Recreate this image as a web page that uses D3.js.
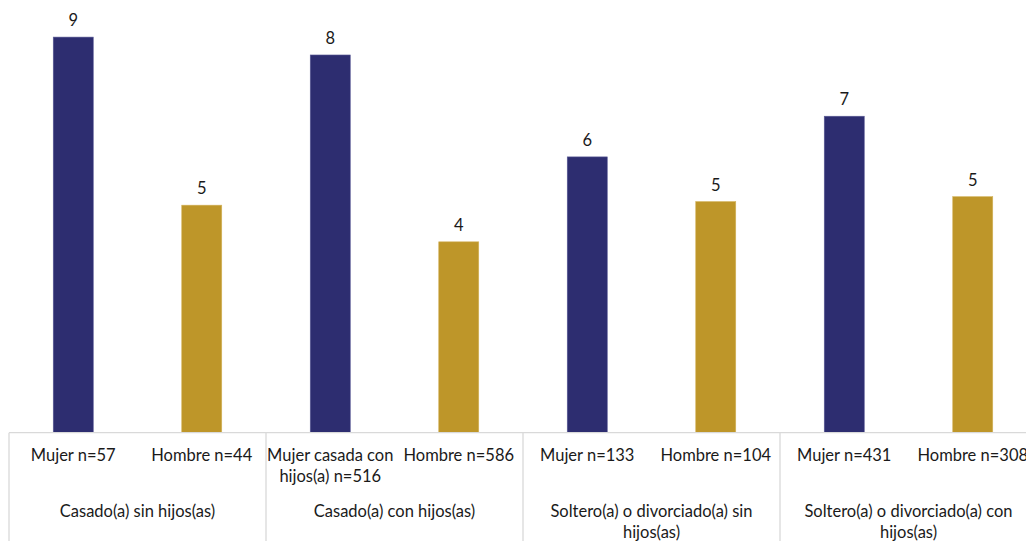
<!DOCTYPE html>
<html><head><meta charset="utf-8">
<script src="https://cdn.jsdelivr.net/npm/d3@7"></script>
<style>html,body{margin:0;padding:0;background:#fff;overflow:hidden}</style>
</head><body>
<svg id="chart" width="1026" height="541"></svg>
<script>
const groups = ["Casado(a) sin hijos(as)", "Casado(a) con hijos(as)", "Soltero(a) o divorciado(a) sin hijos(as)", "Soltero(a) o divorciado(a) con hijos(as)"];
const series = ["Mujer", "Hombre"];
const mujerLabels = ["Mujer n=57", "Mujer casada con hijos(a) n=516", "Mujer n=133", "Mujer n=431"];
const hombreLabels = ["Hombre n=44", "Hombre n=586", "Hombre n=104", "Hombre n=308"];
const mujerValues = [8.85, 8.45, 6.17, 7.08];
const hombreValues = [5.09, 4.27, 5.17, 5.28];
const yTicks = [0, 10];

const colors = {Mujer: "#2D2D70", Hombre: "#BE9629"};
const FONT = "Lato, 'Open Sans', sans-serif";
const FS = 16.5;

const svg = d3.select("#chart");
const left = 9, groupW = 257, baseY = 432.7, pxPerUnit = 44.7;

const x0 = d3.scaleBand().domain(groups).range([left, left + groupW * groups.length]).padding(0);
const x1 = d3.scaleBand().domain(series).range([0, x0.bandwidth()]).paddingInner(0.6887).paddingOuter(0.6887 / 2);
const y = d3.scaleLinear().domain([yTicks[0], yTicks[1]]).range([baseY, baseY - pxPerUnit * yTicks[1]]);

const data = [];
groups.forEach((g, i) => {
  data.push({group: g, s: "Mujer", v: mujerValues[i], label: mujerLabels[i]});
  data.push({group: g, s: "Hombre", v: hombreValues[i], label: hombreLabels[i]});
});

// bars
svg.append("g").selectAll("rect").data(data).join("rect")
  .attr("x", d => x0(d.group) + x1(d.s))
  .attr("y", d => y(d.v))
  .attr("width", x1.bandwidth())
  .attr("height", d => y(0) - y(d.v))
  .attr("fill", d => colors[d.s])
  .attr("stroke", d => d.s === "Mujer" ? "#5a5a95" : "#d2b25a")
  .attr("stroke-width", 0.6);

// value labels
svg.append("g").selectAll("text").data(data).join("text")
  .attr("x", d => x0(d.group) + x1(d.s) + x1.bandwidth() / 2)
  .attr("y", d => y(d.v) - 11)
  .attr("text-anchor", "middle")
  .attr("font-family", FONT).attr("font-size", FS).attr("fill", "#1a1a1a")
  .text(d => d3.format(".0f")(d.v));

// axis lines
const axisG = svg.append("g").attr("stroke", "#d9d9d9").attr("stroke-width", 1.3);
axisG.append("line").attr("x1", left).attr("x2", 1026).attr("y1", baseY).attr("y2", baseY);
groups.forEach(g => {
  axisG.append("line").attr("x1", x0(g)).attr("x2", x0(g)).attr("y1", baseY).attr("y2", 541);
});

function wrapLines(text, maxW) {
  const meas = svg.append("text").attr("font-family", FONT).attr("font-size", FS);
  const words = text.split(" ");
  const lines = [];
  let cur = "";
  words.forEach(w => {
    const t = cur ? cur + " " + w : w;
    meas.text(t);
    if (meas.node().getComputedTextLength() > maxW && cur) { lines.push(cur); cur = w; }
    else cur = t;
  });
  if (cur) lines.push(cur);
  meas.remove();
  return lines;
}

// category labels
const catG = svg.append("g");
data.forEach(d => {
  const cx = x0(d.group) + x1(d.s) + x1.bandwidth() / 2;
  const lines = wrapLines(d.label, 140);
  const t = catG.append("text").attr("text-anchor", "middle")
    .attr("font-family", FONT).attr("font-size", FS).attr("fill", "#1a1a1a");
  lines.forEach((l, i) => t.append("tspan").attr("x", cx).attr("y", 461 + i * 21).text(l));
});

// group labels
const grpG = svg.append("g");
groups.forEach(g => {
  const cx = x0(g) + x0.bandwidth() / 2;
  const lines = wrapLines(g, 225);
  const t = grpG.append("text").attr("text-anchor", "middle")
    .attr("font-family", FONT).attr("font-size", FS).attr("fill", "#1a1a1a");
  lines.forEach((l, i) => t.append("tspan").attr("x", cx).attr("y", 517 + i * 20.5).text(l));
});
</script>
</body></html>
